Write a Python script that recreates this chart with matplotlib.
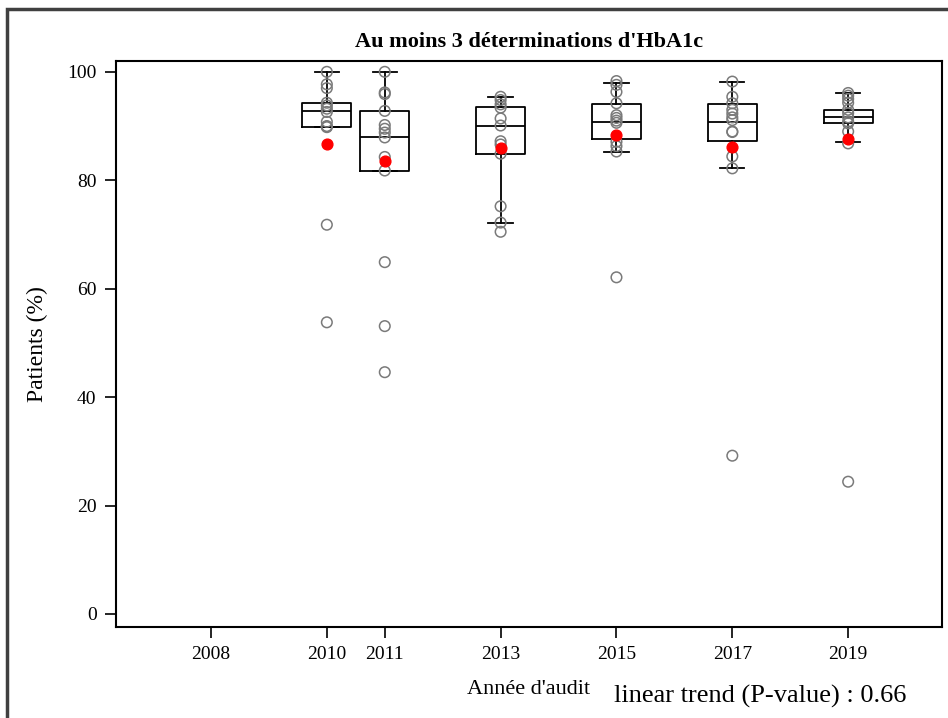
import matplotlib
matplotlib.use("Agg")
import matplotlib.pyplot as plt
from matplotlib.patches import Rectangle

years = [2010, 2011, 2013, 2015, 2017, 2019]
tick_years = [2008, 2010, 2011, 2013, 2015, 2017, 2019]

pts_2010 = [100, 97.7, 97.0, 94.3, 93.8, 93.2, 92.6, 90.8, 90.0, 89.9, 89.8, 71.8, 53.8]
pts_2011 = [100, 96.2, 95.9, 92.8, 90.2, 89.5, 88.8, 87.9, 84.3, 81.8, 64.9, 53.1, 44.6]
pts_2013 = [95.4, 94.8, 94.0, 93.4, 91.4, 90.1, 87.2, 86.6, 84.9, 75.2, 72.2, 70.5]
pts_2015 = [98.3, 97.6, 96.3, 94.2, 92.0, 91.5, 91.0, 90.6, 87.1, 86.3, 85.3, 62.1]
pts_2017 = [98.2, 95.4, 94.2, 93.0, 92.3, 91.6, 91.1, 89.0, 88.9, 84.4, 82.2, 29.2]
pts_2019 = [96.1, 95.6, 95.0, 94.3, 93.0, 92.4, 91.6, 90.8, 90.5, 89.0, 86.8, 24.4]
points = [pts_2010, pts_2011, pts_2013, pts_2015, pts_2017, pts_2019]

q1 = [89.8, 81.8, 84.9, 87.6, 87.3, 90.5]
med = [92.8, 87.9, 90.0, 90.8, 90.7, 91.6]
q3 = [94.3, 92.7, 93.6, 94.1, 94.0, 93.0]
whislo = [89.8, 81.8, 72.2, 85.2, 82.2, 87.0]
whishi = [100, 100, 95.4, 97.9, 98.2, 96.1]
red_vals = [86.6, 83.6, 86.0, 88.3, 86.2, 87.6]

title = "Au moins 3 déterminations d'HbA1c"
xlabel = "Année d'audit"
ylabel = "Patients (%)"
trend_text = "linear trend (P-value) : 0.66"

plt.rcParams['font.family'] = ['Liberation Serif', 'DejaVu Serif']

fig = plt.figure(figsize=(9.48, 7.18), dpi=100)
ax = fig.add_axes([116/948, 1-627/718, (942-116)/948, (627-61)/718])

stats = []
for i in range(len(years)):
    stats.append(dict(med=med[i], q1=q1[i], q3=q3[i], whislo=whislo[i],
                      whishi=whishi[i], fliers=[]))
ax.bxp(stats, positions=years, widths=0.85, showfliers=False,
       boxprops=dict(color='black', linewidth=1.3),
       medianprops=dict(color='black', linewidth=1.3),
       whiskerprops=dict(color='black', linewidth=1.3),
       capprops=dict(color='black', linewidth=1.3),
       capwidths=0.42, manage_ticks=False)

for y, pts in zip(years, points):
    ax.scatter([y]*len(pts), pts, s=58, facecolors='none',
               edgecolors='#7a7a7a', linewidths=1.1, zorder=3)
ax.scatter(years, red_vals, s=60, color='#ff0000', zorder=4)

ax.set_xlim(2006.36, 2020.62)
ax.set_ylim(-2.4, 102.0)
ax.set_xticks(tick_years)
ax.set_xticklabels([str(t) for t in tick_years])
ax.set_yticks([0, 20, 40, 60, 80, 100])
ax.tick_params(axis='both', length=8, width=1.2, labelsize=14, pad=6)
for s in ax.spines.values():
    s.set_linewidth(1.5)

ax.set_title(title, fontsize=16, fontweight='bold', pad=10)
ax.set_ylabel(ylabel, fontsize=17, labelpad=14)
fig.text(529/948, 1-690/718, xlabel, fontsize=16, ha='center', va='center')
fig.text(760/948, 1-696/718, trend_text, fontsize=19, ha='center', va='center')

fig.patches.append(Rectangle((7/948, -0.1), 1.2, 1.1 - 9/718,
                             transform=fig.transFigure, fill=False,
                             edgecolor='#404040', linewidth=2.5))

fig.savefig("out.png", dpi=100)
